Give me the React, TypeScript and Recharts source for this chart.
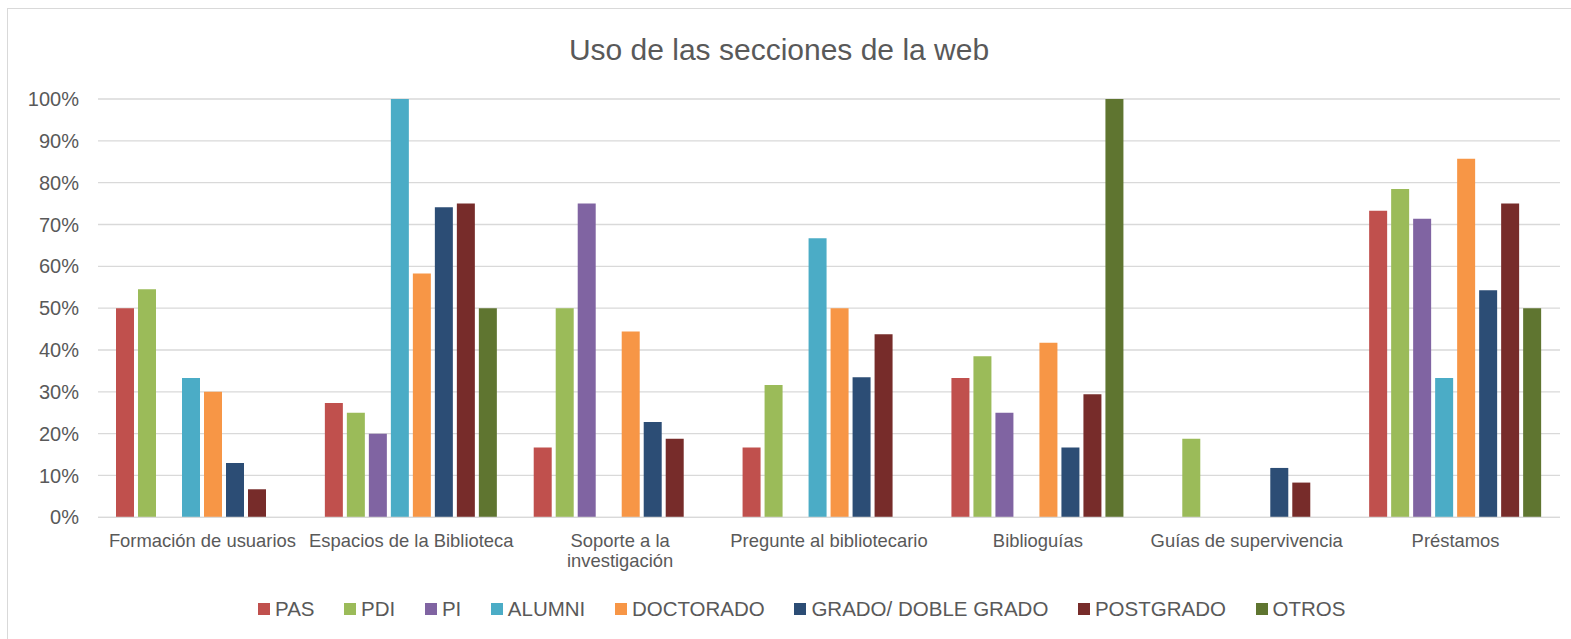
import React from 'react';
import { BarChart, Bar, XAxis, YAxis, CartesianGrid, Legend } from 'recharts';

const FONT = '"Liberation Sans", Arial, sans-serif';
const TEXT_COLOR = '#595959';

const categories = [
  'Formación de usuarios',
  'Espacios de la Biblioteca',
  'Soporte a la investigación',
  'Pregunte al bibliotecario',
  'Biblioguías',
  'Guías de supervivencia',
  'Préstamos',
];

const seriesNames = ['PAS', 'PDI', 'PI', 'ALUMNI', 'DOCTORADO', 'GRADO/ DOBLE GRADO', 'POSTGRADO', 'OTROS'];
const seriesColors = ['#c0504d', '#9bbb59', '#8064a2', '#4bacc6', '#f79646', '#2c4d75', '#772c2a', '#5f7530'];

const pas = [50, 27.3, 16.7, 16.7, 33.3, 0, 73.3];
const pdi = [54.5, 25, 50, 31.6, 38.5, 18.75, 78.5];
const pi = [0, 20, 75, 0, 25, 0, 71.4];
const alumni = [33.3, 100, 0, 66.7, 0, 0, 33.3];
const doctorado = [30, 58.3, 44.4, 50, 41.7, 0, 85.7];
const grado = [13, 74.1, 22.8, 33.5, 16.7, 11.8, 54.3];
const postgrado = [6.7, 75, 18.75, 43.75, 29.4, 8.3, 75];
const otros = [0, 50, 0, 0, 100, 0, 50];

const yTicks = [0, 10, 20, 30, 40, 50, 60, 70, 80, 90, 100];

const seriesValues = [pas, pdi, pi, alumni, doctorado, grado, postgrado, otros];

const data = categories.map((c, i) => {
  const row: Record<string, any> = { category: c };
  seriesNames.forEach((s, j) => {
    row[s] = seriesValues[j][i];
  });
  return row;
});

const X_FONT_SIZE = 18.4;
let measureCtx: CanvasRenderingContext2D | null = null;
const measure = (s: string) => {
  if (!measureCtx) {
    const c = document.createElement('canvas');
    measureCtx = c.getContext('2d');
  }
  if (!measureCtx) return s.length * X_FONT_SIZE * 0.5;
  measureCtx.font = `${X_FONT_SIZE}px "Liberation Sans", Arial, sans-serif`;
  return measureCtx.measureText(s).width;
};

const wrapLabel = (label: string, maxWidth: number) => {
  const words = label.split(' ');
  const lines: string[] = [];
  let cur = '';
  words.forEach((w) => {
    const test = cur ? `${cur} ${w}` : w;
    if (cur && measure(test) > maxWidth) {
      lines.push(cur);
      cur = w;
    } else {
      cur = test;
    }
  });
  if (cur) lines.push(cur);
  return lines;
};

const CategoryTick = (props: any) => {
  const { x, y, payload } = props;
  const lines = wrapLabel(String(payload.value), 208);
  return (
    <text
      x={x}
      y={y}
      textAnchor="middle"
      fill={TEXT_COLOR}
      style={{ fontSize: X_FONT_SIZE, fontFamily: FONT }}
    >
      {lines.map((l, i) => (
        <tspan key={i} x={x} dy={i === 0 ? '0.71em' : 20}>
          {l}
        </tspan>
      ))}
    </text>
  );
};

const LegendContent = (props: any) => {
  const payload = [...(props.payload || [])].sort(
    (a: any, b: any) => seriesNames.indexOf(a.value) - seriesNames.indexOf(b.value)
  );
  return (
    <div style={{ display: 'flex', alignItems: 'center', height: 20, paddingLeft: 258, fontFamily: FONT }}>
      {payload.map((entry: any, i: number) => (
        <div
          key={entry.value}
          style={{ display: 'flex', alignItems: 'center', marginRight: i < payload.length - 1 ? 29.6 : 0 }}
        >
          <div style={{ width: 12, height: 12, background: entry.color, marginRight: 5 }} />
          <span style={{ fontSize: 20.5, lineHeight: '20px', color: TEXT_COLOR, whiteSpace: 'nowrap' }}>
            {entry.value}
          </span>
        </div>
      ))}
    </div>
  );
};

export default function App() {
  return (
    <div
      style={{
        position: 'absolute',
        left: 0,
        top: 0,
        width: 1571,
        height: 639,
        overflow: 'hidden',
        background: '#ffffff',
        fontFamily: FONT,
      }}
    >
      <div
        style={{
          position: 'absolute',
          left: 7,
          top: 8,
          width: 1700,
          height: 800,
          border: '1px solid #d9d9d9',
          boxSizing: 'border-box',
        }}
      />
      <div
        style={{
          position: 'absolute',
          left: 0,
          top: 34.6,
          width: 1558,
          textAlign: 'center',
          fontSize: 30,
          lineHeight: '30px',
          color: TEXT_COLOR,
          fontFamily: FONT,
        }}
      >
        Uso de las secciones de la web
      </div>
      <div style={{ position: 'absolute', left: 0, top: 0 }}>
        <BarChart
          width={1571}
          height={639}
          data={data}
          margin={{ top: 99, right: 11, bottom: 91.7, left: 0 }}
          barSize={18}
          barGap={4}
        >
          <CartesianGrid vertical={false} stroke="#d9d9d9" strokeWidth={1.3} />
          <XAxis
            dataKey="category"
            height={30}
            tickLine={false}
            tickMargin={11}
            axisLine={{ stroke: '#d9d9d9', strokeWidth: 1.3 }}
            interval={0}
            tick={<CategoryTick />}
          />
          <YAxis
            width={98}
            domain={[0, 100]}
            ticks={yTicks}
            tickFormatter={(v: number) => `${v}%`}
            tickLine={false}
            axisLine={false}
            tickMargin={13}
            tick={{ fill: TEXT_COLOR, fontSize: 20, fontFamily: FONT }}
          />
          <Legend
            layout="horizontal"
            verticalAlign="middle"
            align="center"
            content={<LegendContent />}
            wrapperStyle={{ position: 'absolute', top: 599, left: 0, width: 1571, height: 20 }}
          />
          {seriesNames.map((s, i) => (
            <Bar key={s} dataKey={s} name={s} fill={seriesColors[i]} isAnimationActive={false} />
          ))}
        </BarChart>
      </div>
    </div>
  );
}
